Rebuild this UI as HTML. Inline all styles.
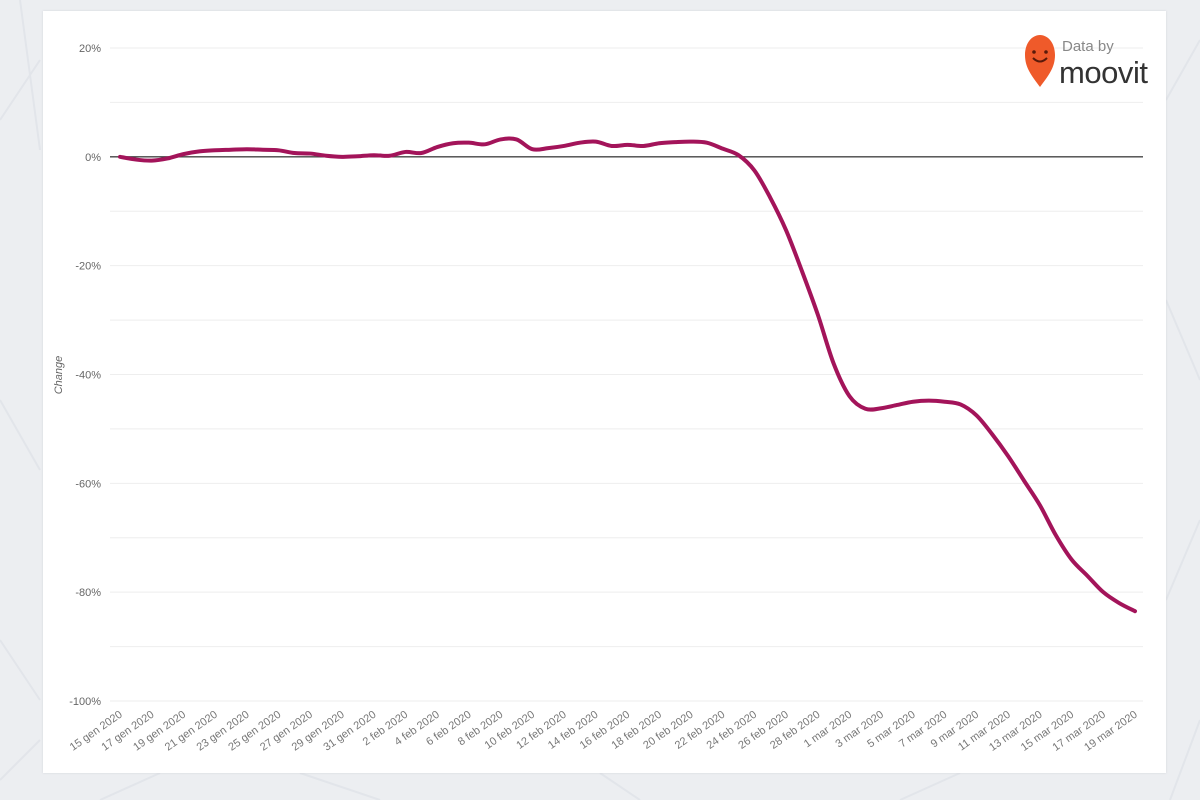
<!DOCTYPE html>
<html><head><meta charset="utf-8"><style>
html,body{margin:0;padding:0;}
body{width:1200px;height:800px;background:#eceef1;position:relative;overflow:hidden;font-family:"Liberation Sans",sans-serif;}
#card{position:absolute;left:43px;top:11px;width:1123px;height:762px;background:#fff;box-shadow:0 0 2px #d0d3d8;}
svg{position:absolute;left:0;top:0;}
</style></head><body>
<svg width="1200" height="800">
<g stroke="#e2e5ea" stroke-width="2" fill="none">
<path d="M0 120 L40 60 M20 0 L40 150 M0 400 L40 470 M0 640 L40 700 M0 780 L40 740"/>
<path d="M1166 100 L1200 40 M1166 300 L1200 380 M1166 600 L1200 520 M1170 800 L1200 720"/>
<path d="M100 800 L160 773 M300 773 L380 800 M600 773 L640 800 M900 800 L960 773"/>
</g></svg>
<div id="card"></div>
<svg id="chart" width="1200" height="800"></svg>
<script>
const categories = (function(){const m=[["gen",15,31],["feb",1,29],["mar",1,19]];const a=[];m.forEach(([n,s,e])=>{for(let d=s;d<=e;d++)a.push(d+" "+n+" 2020");});return a;})();
const seriesValues = [0,-0.5,-0.7,-0.3,0.5,1,1.2,1.3,1.4,1.3,1.2,0.7,0.6,0.2,0,0.1,0.3,
0.2,0.9,0.7,1.8,2.5,2.6,2.3,3.2,3.2,1.4,1.6,2,2.6,2.8,2,2.2,2.0,2.5,2.7,2.8,2.6,1.5,0.3,-2.5,-7.5,-13.5,-21,-29,-38,
-44,-46.3,-46.2,-45.6,-45,-44.8,-45,-45.5,-47.5,-51,-55,-59.5,-64,-69.5,-74,-77,-80,-82,-83.5];
const yTicks = [20,10,0,-10,-20,-30,-40,-50,-60,-70,-80,-90,-100];
const yLabels = ["20%","","0%","","-20%","","-40%","","-60%","","-80%","","-100%"];
const NS="http://www.w3.org/2000/svg";
const svg=document.getElementById('chart');
const x0=120,x1=1135,yTop=48,yBot=701;
function xs(i){return x0+(x1-x0)*i/(categories.length-1);}
function ys(v){return yTop+(20-v)/120*(yBot-yTop);}
function mk(t,a,p){const e=document.createElementNS(NS,t);for(const k in a)e.setAttribute(k,a[k]);(p||svg).appendChild(e);return e;}
yTicks.forEach((v,i)=>{
 const g=mk('line',{x1:110,x2:1143,y1:ys(v),y2:ys(v),stroke:v===0?'#444':'#eeeeee','stroke-width':v===0?1.3:1});
 
 
 if(yLabels[i]){const t=mk('text',{x:101,y:ys(v)+4,'text-anchor':'end','font-size':11,fill:'#666'});t.textContent=yLabels[i];
 
 }
});
categories.forEach((c,i)=>{ if(i%2) return;
 const t=mk('text',{x:0,y:0,'text-anchor':'end','font-size':11,fill:'#777',transform:`translate(${xs(i)+3},${716}) rotate(-35)`});
 t.textContent=c;
 
 
});
// smooth path (catmull-rom)
const pts=seriesValues.map((v,i)=>[xs(i),ys(v)]);
let d=`M${pts[0][0]},${pts[0][1]}`;
for(let i=0;i<pts.length-1;i++){const p0=pts[Math.max(0,i-1)],p1=pts[i],p2=pts[i+1],p3=pts[Math.min(pts.length-1,i+2)];
 d+=` C${p1[0]+(p2[0]-p0[0])/6},${p1[1]+(p2[1]-p0[1])/6} ${p2[0]-(p3[0]-p1[0])/6},${p2[1]-(p3[1]-p1[1])/6} ${p2[0]},${p2[1]}`;}
const line=mk('path',{d:d,fill:'none',stroke:'#a3145a','stroke-width':4,'stroke-linecap':'round','stroke-linejoin':'round'});


const yt=mk('text',{x:0,y:0,'text-anchor':'middle','font-size':11,'font-style':'italic',fill:'#666',transform:'translate(62,375) rotate(-90)'});
yt.textContent='Change';


// logo
const lg=mk('g',{});


mk('path',{d:'M1040 87 C1032 76 1025 68 1025 55 C1025 43 1032 35 1040 35 C1048 35 1055 43 1055 55 C1055 68 1048 76 1040 87 Z',fill:'#ef5a2a'},lg);
mk('circle',{cx:1034,cy:52,r:1.8,fill:'#5a1a0a'},lg);
mk('circle',{cx:1046,cy:52,r:1.8,fill:'#5a1a0a'},lg);
mk('path',{d:'M1033 58 Q1040 65 1047 58',stroke:'#5a1a0a','stroke-width':2,fill:'none'},lg);
const t1=mk('text',{x:1062,y:51,'font-size':15,fill:'#888'},lg);t1.textContent='Data by';
const t2=mk('text',{x:1059,y:83,'font-size':31,fill:'#333','textLength':89},lg);t2.textContent='moovit';
</script>
</body></html>
